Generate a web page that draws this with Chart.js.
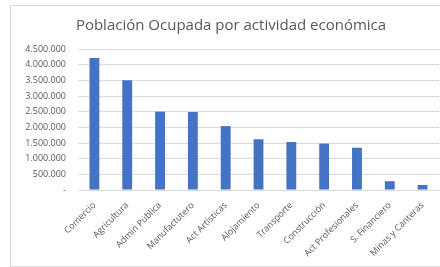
<!DOCTYPE html>
<html>
<head>
<meta charset="utf-8">
<script src="https://cdn.jsdelivr.net/npm/chart.js@4"></script>
<style>
    body { margin: 0; background: #fff; }
    #frame {
        position: absolute; left: 10px; top: 5px; width: 430px; height: 260px;
        border-left: 1px solid #d9d9d9; border-top: 1px solid #d9d9d9; border-bottom: 1px solid #d9d9d9;
    }
</style>
</head>
<body>
<div id="frame"><canvas id="chart"></canvas></div>
<script>
const categories = ["Comercio", "Agricultura", "Admin Pública", "Manufactutero", "Act Artísticas", "Alojamiento",
    "Transporte", "Construcción", "Act Profesionales", "S. Financiero", "Minas y Canteras"];
const ocupados = [4210000, 3500000, 2500000, 2490000, 2040000, 1620000, 1530000, 1480000, 1350000, 280000, 160000];
const yTicks = [0, 500000, 1000000, 1500000, 2000000, 2500000, 3000000, 3500000, 4000000, 4500000];

function formatTick(value) {
    if (value === 0) return "-";
    return value.toString().replace(/\B(?=(\d{3})+(?!\d))/g, ".");
}

document.addEventListener("DOMContentLoaded", () => {
    const ctx = document.getElementById("chart").getContext("2d");
    new Chart(ctx, {
        type: "bar",
        data: {
            labels: categories,
            datasets: [{
                label: "Población Ocupada",
                data: ocupados,
                backgroundColor: "#4472c4",
                barPercentage: 0.3,
                categoryPercentage: 1
            }]
        },
        options: {
            responsive: true,
            maintainAspectRatio: false,
            animation: false,
            layout: { padding: { left: 12, right: 2, bottom: 0 } },
            plugins: {
                legend: { display: false },
                tooltip: { enabled: false },
                title: {
                    display: true,
                    text: "Población Ocupada por actividad económica",
                    color: "#595959",
                    font: { family: "Open Sans", size: 15, weight: "normal" },
                    padding: { top: 11, bottom: 14 }
                }
            },
            scales: {
                x: {
                    grid: { display: false },
                    border: { color: "#d9d9d9" },
                    ticks: {
                        color: "#595959",
                        font: { family: "Open Sans", size: 9 },
                        minRotation: 45,
                        maxRotation: 45,
                        autoSkip: false,
                        padding: 2
                    },
                    afterFit: scale => { scale.height = 76; }
                },
                y: {
                    min: 0,
                    max: 4500000,
                    afterBuildTicks: scale => { scale.ticks = yTicks.map(v => ({ value: v })); },
                    grid: { color: "#d9d9d9", drawTicks: false },
                    border: { display: false },
                    ticks: {
                        color: "#595959",
                        font: { family: "Open Sans", size: 9 },
                        padding: 12,
                        callback: value => formatTick(value)
                    },
                    afterFit: scale => { scale.width = 55; }
                }
            }
        }
    });
});
</script>
</body>
</html>
